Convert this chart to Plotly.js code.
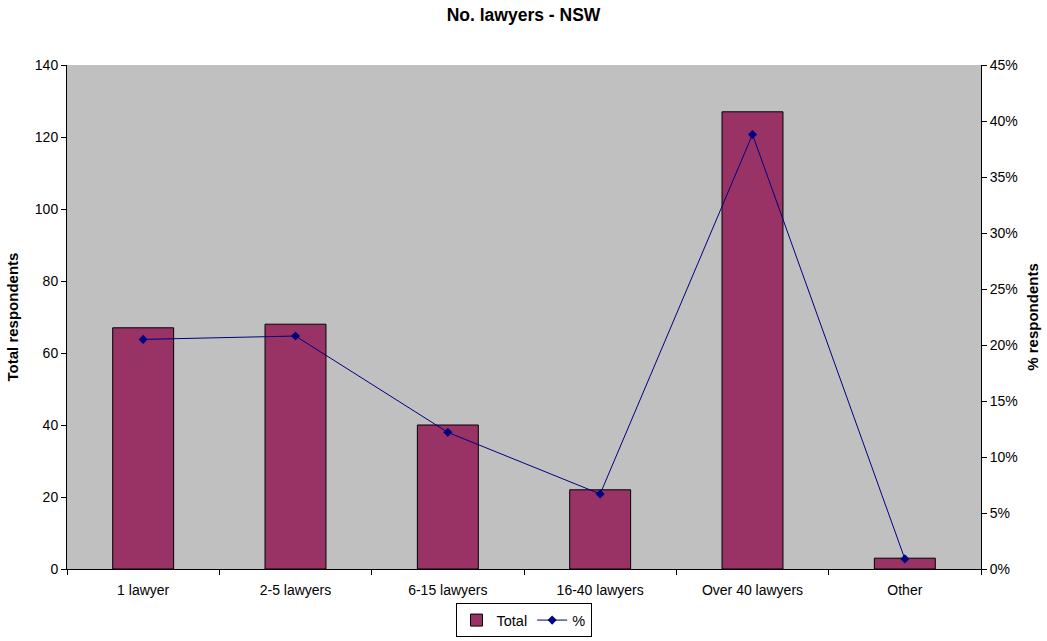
<!DOCTYPE html>
<html>
<head>
<meta charset="utf-8">
<script src="https://cdn.plot.ly/plotly-3.0.1.min.js"></script>
<style>html,body{margin:0;padding:0;background:#fff;}#chart{width:1047px;height:641px;}</style>
</head>
<body>
<div id="chart"></div>
<script>
const categories = ["1 lawyer", "2-5 lawyers", "6-15 lawyers", "16-40 lawyers", "Over 40 lawyers", "Other"];
const totals = [67, 68, 40, 22, 127, 3];
const percents = [0.205, 0.208, 0.122, 0.067, 0.388, 0.009];
const leftTicks = [0, 20, 40, 60, 80, 100, 120, 140];
const rightTicks = [0, 0.05, 0.10, 0.15, 0.20, 0.25, 0.30, 0.35, 0.40, 0.45];

const font = {family: "Liberation Sans, Arial, sans-serif", size: 14, color: "#000"};

const traces = [
  {
    type: "bar", name: "Total", x: categories, y: totals,
    marker: {color: "#993366", line: {color: "#000", width: 1}},
    width: 0.4, yaxis: "y"
  },
  {
    type: "scatter", mode: "lines+markers", name: "%", x: categories, y: percents,
    line: {color: "#000080", width: 1},
    marker: {symbol: "diamond", size: 7, color: "#000080"},
    yaxis: "y2"
  }
];

const layout = {
  width: 1047, height: 641,
  margin: {l: 67, r: 66, t: 65, b: 72},
  paper_bgcolor: "#fff", plot_bgcolor: "#c0c0c0",
  font: font,
  showlegend: true,
  title: {text: "<b>No. lawyers - NSW</b>", x: 0.5, xref: "container", y: 0.977, yref: "container", yanchor: "middle", font: {family: font.family, size: 17.5, color: "#000"}},
  xaxis: {
    type: "category", tickson: "boundaries", ticks: "outside", ticklen: 5, tickcolor: "#000",
    showline: true, linecolor: "#000", linewidth: 1, showgrid: false, zeroline: false,
    tickfont: {size: 14}, automargin: false, ticklabelstandoff: 8
  },
  yaxis: {
    range: [0, 140], tickvals: leftTicks, ticks: "outside", ticklen: 5, tickcolor: "#000",
    showline: true, linecolor: "#000", linewidth: 1, showgrid: false, zeroline: false,
    title: {text: "<b>Total respondents</b>", font: {size: 15}, standoff: 12},
    tickfont: {size: 14}, automargin: false
  },
  yaxis2: {
    range: [0, 0.45], tickvals: rightTicks, tickformat: ".0%", overlaying: "y", side: "right",
    ticks: "outside", ticklen: 5, tickcolor: "#000",
    showline: true, linecolor: "#000", linewidth: 1, showgrid: false, zeroline: false,
    title: {text: "<b>% respondents</b>", font: {size: 15}, standoff: 10},
    tickfont: {size: 14}, automargin: false
  },
  legend: {
    orientation: "h", x: 0.5, xanchor: "center", xref: "container",
    y: 0.006, yanchor: "bottom", yref: "container",
    bordercolor: "#000", borderwidth: 1, bgcolor: "#fff", font: {size: 14.5},
    itemwidth: 30, tracegroupgap: 0
  },
  bargap: 0.6
};

Plotly.newPlot("chart", traces, layout, {displayModeBar: false, staticPlot: true});
</script>
</body>
</html>
